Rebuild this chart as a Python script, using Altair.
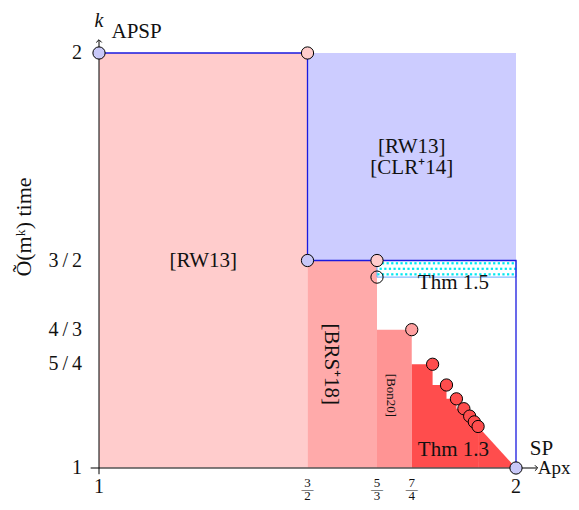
import altair as alt
import pandas as pd

FONT = "Liberation Serif"

# ---------------- data ----------------
region_name = ["RW13", "RW13_CLR14", "BRS18", "Bon20"]
region_x0 = [1, 3/2, 3/2, 5/3]
region_x1 = [3/2, 2, 5/3, 7/4]
region_y0 = [1, 3/2, 1, 1]
region_y1 = [2, 2, 3/2, 4/3]

thm15_x = [5/3, 2]
thm15_y = [1.46, 3/2]

# frontier (blue staircase)
front_x = [1, 3/2, 3/2, 2, 2]
front_y = [2, 2, 3/2, 3/2, 1]

# circles
pt_x = [1, 3/2, 3/2, 5/3, 5/3, 7/4, 9/5, 11/6, 13/7, 15/8, 17/9, 19/10, 21/11, 2]
pt_y = [2, 2, 3/2, 3/2, 1.46, 4/3, 5/4, 6/5, 7/6, 8/7, 9/8, 10/9, 11/10, 1]
pt_kind = ["blue", "pink", "blue", "pink", "open", "bon",
           "red", "red", "red", "red", "red", "red", "red", "blue"]

# red staircase of Thm 1.3 (top of step starting at x)
stair_x = [7/4, 9/5, 11/6, 13/7, 15/8, 17/9, 19/10, 21/11]
stair_top = [5/4, 6/5, 7/6, 8/7, 9/8, 10/9, 11/10, 11/10]
tail_x = [21/11, 2]
tail_y = [11/10, 1]

ytick_vals = [1, 5/4, 4/3, 3/2, 2]
ytick_text = ["1", "5\u2009/\u20094", "4\u2009/\u20093", "3\u2009/\u20092", "2"]
xtick_int_vals = [1, 2]
xtick_int_text = ["1", "2"]
xfrac_vals = [3/2, 5/3, 7/4]
xfrac_num = ["3", "5", "7"]
xfrac_den = ["2", "3", "4"]

ann_text = ["[RW13]", "[RW13]", "[CLR⁺14]", "Thm 1.5", "Thm 1.3"]
ann_x = [1.25, 1.75, 1.75, 1.85, 1.85]
ann_y = [1.5, 1.773, 1.723, 1.446, 1.043]

rot_text = ["[BRS⁺18]"]
rot_x = [1.556]
rot_y = [1.25]
bon_text = ["[Bon20]"]
bon_x = [1.70]
bon_y = [1.175]

# axis decorations (data-space anchors)
axis_x_span = [0.98, 2.05]
axis_y_span = [0.985, 2.03]
extra_text = ["k", "APSP", "SP", "Apx"]
extra_x = [1, 1.03, 2.033, 2.052]
extra_y = [2.078, 2.05, 1.045, 1.0]
extra_size = [20, 21, 21, 19]

# ---------------- styles ----------------
pt_colors = {"blue": "#c8c8f8", "pink": "#ffcccc", "open": "transparent", "bon": "#ffa0a0", "red": "#ff4d4d"}
region_colors = {"RW13": "#ffcccc", "RW13_CLR14": "#ccccff", "BRS18": "#ffaaaa", "Bon20": "#ff9494"}
RED = "#ff4d4d"

X = alt.Scale(domain=[1, 2])
Y = alt.Scale(domain=[1, 2])


def xq(f="x"):
    return alt.X(f"{f}:Q", scale=X, axis=None)


def yq(f="y"):
    return alt.Y(f"{f}:Q", scale=Y, axis=None)


regions = pd.DataFrame({"name": region_name, "x0": region_x0, "x1": region_x1,
                        "y0": region_y0, "y1": region_y1,
                        "c": [region_colors[n] for n in region_name]})
region_layer = alt.Chart(regions).mark_rect(strokeWidth=0).encode(
    x=xq("x0"), x2="x1:Q", y=yq("y0"), y2="y1:Q",
    fill=alt.Fill("c:N", scale=None),
)

stair = pd.DataFrame({"x": stair_x, "y": stair_top, "b": [1] * len(stair_x)})
stair_layer = alt.Chart(stair).mark_area(interpolate="step-after", color=RED, opacity=1).encode(
    x=xq(), y=yq(), y2="b:Q")
tail = pd.DataFrame({"x": tail_x, "y": tail_y, "b": [1] * len(tail_x)})
tail_layer = alt.Chart(tail).mark_area(color=RED, opacity=1).encode(x=xq(), y=yq(), y2="b:Q")

strip = pd.DataFrame({"x0": [thm15_x[0]], "x1": [thm15_x[1]], "y0": [thm15_y[0]], "y1": [thm15_y[1]]})
strip_layer = alt.Chart(strip).mark_rect(fill="white", stroke="#66aaff", strokeWidth=1).encode(
    x=xq("x0"), x2="x1:Q", y=yq("y0"), y2="y1:Q")

NC, NR = 30, 3
dot_idx = pd.DataFrame({"i": list(range(NC * NR))})
dots_layer = alt.Chart(dot_idx).transform_calculate(
    row=f"floor(datum.i / {NC})", col=f"datum.i % {NC}"
).transform_calculate(
    x=f"{thm15_x[0]} + ({thm15_x[1]} - {thm15_x[0]}) * (datum.col + 0.3 + 0.5 * (datum.row % 2)) / {NC}",
    y=f"{thm15_y[1]} - ({thm15_y[1]} - {thm15_y[0]}) * (datum.row + 0.5) / {NR}",
).mark_square(size=5, color="#00e8f0", opacity=1, strokeWidth=0).encode(x=xq(), y=yq())

front = pd.DataFrame({"x": front_x, "y": front_y, "o": list(range(len(front_x)))})
front_layer = alt.Chart(front).mark_line(color="#1a1adf", strokeWidth=1.3).encode(
    x=xq(), y=yq(), order="o:Q")

axes = pd.DataFrame({"x0": [axis_x_span[0]], "x1": [axis_x_span[1]], "y0": [axis_y_span[0]],
                     "y1": [axis_y_span[1]], "one": [1]})
xaxis_layer = alt.Chart(axes).mark_rule(color="#555555", strokeWidth=1.6).encode(
    x=xq("x0"), x2="x1:Q", y=yq("one"))
yaxis_layer = alt.Chart(axes).mark_rule(color="black", strokeWidth=1).encode(
    x=xq("one"), y=yq("y0"), y2="y1:Q")
arrow_up = alt.Chart(axes).mark_point(
    shape="M-1,0.7L0,-0.3L1,0.7", filled=False, color="black", size=30, strokeWidth=1, opacity=1
).encode(x=xq("one"), y=yq("y1"))
arrow_right = alt.Chart(axes).mark_point(
    shape="M-0.7,-1L0.3,0L-0.7,1", filled=False, color="black", size=30, strokeWidth=1, opacity=1
).encode(x=xq("x1"), y=yq("one"))

pts = pd.DataFrame({"x": pt_x, "y": pt_y, "c": [pt_colors[k] for k in pt_kind], "o": list(range(len(pt_x)))})
pts_layer = alt.Chart(pts).mark_point(filled=True, size=150, stroke="black", strokeWidth=1, opacity=1).encode(
    x=xq(), y=yq(),
    fill=alt.Fill("c:N", scale=None),
    order="o:Q")

ann = pd.DataFrame({"t": ann_text, "x": ann_x, "y": ann_y})
ann_layer = alt.Chart(ann).mark_text(font=FONT, fontSize=21, color="#111111").encode(
    x=xq(), y=yq(), text="t:N")
rot_layer = alt.Chart(pd.DataFrame({"t": rot_text, "x": rot_x, "y": rot_y})).mark_text(
    font=FONT, fontSize=21, angle=90, color="#111111").encode(x=xq(), y=yq(), text="t:N")
bon_layer = alt.Chart(pd.DataFrame({"t": bon_text, "x": bon_x, "y": bon_y})).mark_text(
    font=FONT, fontSize=13, angle=90, color="#111111").encode(x=xq(), y=yq(), text="t:N")

ytk = pd.DataFrame({"v": ytick_vals, "t": ytick_text, "one": [1] * len(ytick_vals)})
ytk_layer = alt.Chart(ytk).mark_text(font=FONT, fontSize=20, align="right", dx=-17, color="#111111").encode(
    x=xq("one"), y=yq("v"), text="t:N")

xtk = pd.DataFrame({"v": xtick_int_vals, "t": xtick_int_text})
xtk_layer = alt.Chart(xtk).mark_text(font=FONT, fontSize=20, baseline="middle", color="#111111").encode(
    x=xq("v"), y=alt.value(434), text="t:N")

xf = pd.DataFrame({"v": xfrac_vals, "n": xfrac_num, "d": xfrac_den})
xnum_layer = alt.Chart(xf).mark_text(font=FONT, fontSize=13, baseline="middle", color="#111111").encode(
    x=xq("v"), y=alt.value(430), text="n:N")
xden_layer = alt.Chart(xf).mark_text(font=FONT, fontSize=13, baseline="middle", color="#111111").encode(
    x=xq("v"), y=alt.value(443), text="d:N")
xbar_layer = alt.Chart(xf).mark_text(font=FONT, fontSize=12, baseline="middle", color="#111111", text="—").encode(
    x=xq("v"), y=alt.value(436))

extra = pd.DataFrame({"t": extra_text, "x": extra_x, "y": extra_y, "s": extra_size})
k_layer = alt.Chart(extra).transform_filter("datum.t == 'k'").mark_text(
    font=FONT, fontSize=20, fontStyle="italic", color="#111111").encode(x=xq(), y=yq(), text="t:N")
lbl_layer = alt.Chart(extra).transform_filter("datum.t != 'k'").mark_text(
    font=FONT, align="left", color="#111111").encode(
    x=xq(), y=yq(), text="t:N", size=alt.Size("s:Q", scale=None, legend=None))

ytitle = alt.Chart(pd.DataFrame({"t": ["Õ(mᵏ) time"]})).mark_text(
    font=FONT, fontSize=22, angle=270, color="#111111").encode(
    x=alt.value(-75), y=alt.value(174), text="t:N")

chart = alt.layer(
    region_layer, stair_layer, tail_layer, strip_layer, dots_layer,
    xaxis_layer, yaxis_layer, front_layer, arrow_up, arrow_right,
    ann_layer, rot_layer, bon_layer, pts_layer,
    ytk_layer, xtk_layer, xnum_layer, xden_layer, xbar_layer,
    k_layer, lbl_layer, ytitle,
).properties(
    width=417, height=415,
    autosize=alt.AutoSizeParams(type="none"),
    padding={"left": 91, "top": 45, "right": 55, "bottom": 34},
).configure_view(stroke=None)

chart.save("out.html", embed_options={"renderer": "svg", "actions": False})
